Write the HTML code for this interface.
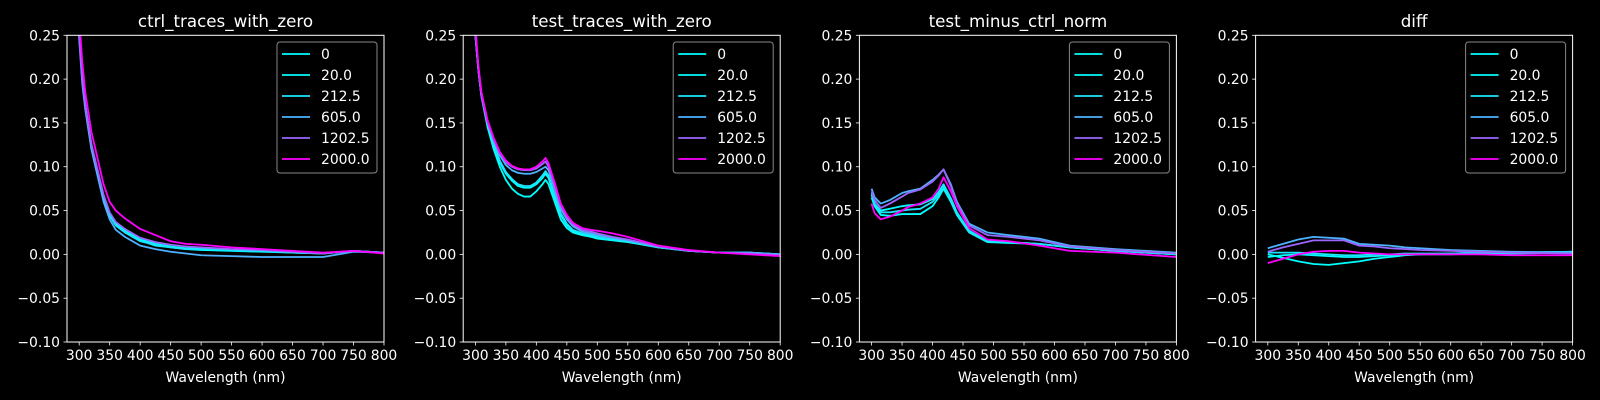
<!DOCTYPE html>
<html><head><meta charset="utf-8"><style>
html,body{margin:0;padding:0;background:#000;}
svg{display:block;font-family:"DejaVu Sans","Liberation Sans",sans-serif;}
</style></head><body>
<svg id="fig" width="1600" height="400" viewBox="0 0 1600 400" xmlns="http://www.w3.org/2000/svg">
<rect width="1600" height="400" fill="#000"/>
</svg>
<script>
const seriesLabels = ["0","20.0","212.5","605.0","1202.5","2000.0"];
const seriesColors = ["#00ffff","#03fcff","#1be4ff","#4db2ff","#9966ff","#ff00ff"];
const panelTitles = ["ctrl_traces_with_zero","test_traces_with_zero","test_minus_ctrl_norm","diff"];
const xTicks = [300,350,400,450,500,550,600,650,700,750,800];
const yTicks = [0.25,0.20,0.15,0.10,0.05,0.00,-0.05,-0.10];
const yTickLabels = ["0.25","0.20","0.15","0.10","0.05","0.00","\u22120.05","\u22120.10"];

const wl1 = [295,300,305,310,320,330,340,350,360,375,400,425,450,475,500,550,600,650,700,750,800];
const ctrl0 = [0.32,0.25,0.2,0.17,0.125,0.095,0.065,0.045,0.033,0.025,0.016,0.01,0.008,0.006,0.005,0.004,0.003,0.002,0.001,0.004,0.002];
const ctrl20 = [0.32,0.25,0.2,0.17,0.125,0.095,0.066,0.046,0.035,0.027,0.017,0.012,0.009,0.007,0.007,0.005,0.004,0.002,0.001,0.004,0.002];
const ctrl212 = [0.32,0.25,0.2,0.17,0.124,0.094,0.064,0.044,0.033,0.025,0.015,0.011,0.008,0.006,0.006,0.005,0.004,0.002,0.001,0.004,0.002];
const ctrl605 = [0.31,0.245,0.195,0.165,0.12,0.09,0.06,0.04,0.028,0.02,0.01,0.006,0.003,0.001,-0.001,-0.002,-0.003,-0.003,-0.003,0.003,0.002];
const ctrl1202 = [0.32,0.25,0.2,0.17,0.126,0.097,0.068,0.048,0.037,0.029,0.019,0.014,0.011,0.009,0.008,0.006,0.005,0.003,0.001,0.004,0.002];
const ctrl2000 = [0.34,0.27,0.22,0.185,0.14,0.11,0.08,0.06,0.05,0.041,0.029,0.022,0.015,0.012,0.011,0.008,0.006,0.004,0.002,0.004,0.001];

const wl2 = [295,300,305,310,320,330,340,350,360,370,380,390,400,410,415,420,430,440,450,460,475,490,500,525,550,600,650,700,750,800];
const test0 = [0.32,0.25,0.21,0.18,0.145,0.12,0.1,0.085,0.075,0.069,0.066,0.066,0.072,0.08,0.085,0.08,0.06,0.04,0.03,0.025,0.022,0.02,0.018,0.016,0.014,0.008,0.004,0.002,0.002,0.0];
const test20 = [0.32,0.25,0.21,0.18,0.148,0.125,0.105,0.092,0.084,0.078,0.076,0.076,0.08,0.087,0.092,0.087,0.065,0.045,0.033,0.027,0.023,0.021,0.019,0.017,0.015,0.008,0.004,0.002,0.002,0.0];
const test212 = [0.32,0.25,0.21,0.18,0.149,0.126,0.107,0.094,0.086,0.08,0.078,0.078,0.082,0.09,0.095,0.09,0.068,0.047,0.035,0.028,0.024,0.022,0.02,0.017,0.015,0.008,0.004,0.002,0.002,0.0];
const test605 = [0.32,0.25,0.21,0.18,0.15,0.13,0.113,0.102,0.096,0.093,0.092,0.092,0.094,0.098,0.1,0.096,0.075,0.052,0.04,0.032,0.026,0.024,0.022,0.019,0.016,0.009,0.004,0.002,0.002,0.0];
const test1202 = [0.32,0.25,0.21,0.18,0.15,0.131,0.115,0.105,0.1,0.097,0.096,0.096,0.098,0.103,0.106,0.1,0.078,0.055,0.042,0.034,0.028,0.026,0.024,0.02,0.017,0.009,0.004,0.002,0.001,-0.001];
const test2000 = [0.33,0.26,0.215,0.185,0.153,0.133,0.117,0.107,0.101,0.098,0.097,0.097,0.1,0.106,0.11,0.104,0.082,0.058,0.045,0.036,0.03,0.028,0.027,0.024,0.02,0.01,0.005,0.002,0.0,-0.002];

const wl3 = [300,305,315,330,350,360,380,400,410,418,430,440,460,490,525,575,625,700,800];
const norm0 = [0.065,0.055,0.045,0.044,0.046,0.046,0.046,0.055,0.065,0.075,0.06,0.045,0.025,0.014,0.013,0.012,0.008,0.004,0.0];
const norm20 = [0.068,0.058,0.05,0.052,0.055,0.056,0.057,0.063,0.071,0.08,0.064,0.048,0.027,0.015,0.014,0.012,0.008,0.004,0.0];
const norm212 = [0.07,0.058,0.048,0.048,0.05,0.051,0.052,0.06,0.068,0.078,0.062,0.047,0.026,0.015,0.014,0.012,0.008,0.004,0.0];
const norm605 = [0.075,0.065,0.058,0.062,0.07,0.072,0.075,0.085,0.091,0.097,0.08,0.06,0.035,0.025,0.022,0.018,0.01,0.006,0.002];
const norm1202 = [0.072,0.062,0.053,0.058,0.066,0.07,0.074,0.083,0.09,0.097,0.078,0.058,0.033,0.022,0.02,0.016,0.009,0.005,0.001];
const norm2000 = [0.058,0.047,0.04,0.043,0.05,0.054,0.058,0.065,0.075,0.088,0.072,0.055,0.03,0.017,0.015,0.01,0.004,0.002,-0.003];

const wl4 = [300,325,350,375,400,425,450,475,500,525,550,600,650,700,800];
const diff0 = [0.0,-0.004,-0.008,-0.011,-0.012,-0.01,-0.008,-0.005,-0.003,-0.001,0.0,0.001,0.002,0.002,0.003];
const diff20 = [-0.003,-0.001,0.0,-0.001,-0.002,-0.003,-0.003,-0.002,-0.001,0.0,0.0,0.0,0.001,0.001,0.002];
const diff212 = [0.002,0.002,0.002,0.001,0.0,-0.001,-0.001,0.0,0.0,0.001,0.001,0.001,0.002,0.002,0.003];
const diff605 = [0.007,0.012,0.017,0.02,0.019,0.018,0.012,0.011,0.01,0.008,0.007,0.005,0.004,0.003,0.002];
const diff1202 = [0.003,0.008,0.012,0.016,0.016,0.016,0.01,0.009,0.007,0.006,0.005,0.004,0.003,0.002,0.001];
const diff2000 = [-0.01,-0.005,0.0,0.003,0.004,0.004,0.002,0.001,0.0,0.0,0.0,0.0,0.0,-0.001,-0.001];

const panels = [
  {wl: wl1, data: [ctrl0,ctrl20,ctrl212,ctrl605,ctrl1202,ctrl2000]},
  {wl: wl2, data: [test0,test20,test212,test605,test1202,test2000]},
  {wl: wl3, data: [norm0,norm20,norm212,norm605,norm1202,norm2000]},
  {wl: wl4, data: [diff0,diff20,diff212,diff605,diff1202,diff2000]}
];

const NS = "http://www.w3.org/2000/svg";
const svg = document.getElementById("fig");
const AX_W = 317, AX_TOP = 35.3, AX_BOT = 342, XMIN = 280, XMAX = 800, YMIN = -0.10, YMAX = 0.25;
const lefts = [67, 463.2, 859.4, 1255.6];
function mk(tag, attrs, parent){const e=document.createElementNS(NS,tag);for(const k in attrs)e.setAttribute(k,attrs[k]);parent.appendChild(e);return e;}
const defs = mk("defs",{},svg);

panels.forEach((p, pi) => {
  const L = lefts[pi];
  const xs = v => L + (v - XMIN) / (XMAX - XMIN) * AX_W;
  const ys = v => AX_TOP + (YMAX - v) / (YMAX - YMIN) * (AX_BOT - AX_TOP);
  const g = mk("g",{},svg);
  
  
  const cp = mk("clipPath",{id:"clip"+pi},defs);
  mk("rect",{x:L,y:AX_TOP,width:AX_W,height:AX_BOT-AX_TOP},cp);
  const t = mk("text",{x:L+AX_W/2,y:27,fill:"#fff","font-size":"16.7","text-anchor":"middle"},g);
  t.textContent = panelTitles[pi];
  
  
  const lines = mk("g",{"clip-path":"url(#clip"+pi+")"},g);
  p.data.forEach((arr, si) => {
    const pts = arr.map((v,i)=>xs(p.wl[i]).toFixed(2)+","+ys(v).toFixed(2)).join(" ");
    const pl = mk("polyline",{points:pts,fill:"none",stroke:seriesColors[si],"stroke-width":"1.8","stroke-linejoin":"round"},lines);
    
    
  });
  const frame = mk("rect",{x:L,y:AX_TOP,width:AX_W,height:AX_BOT-AX_TOP,fill:"none",stroke:"#fff","stroke-width":"1"},g);
  
  
  xTicks.forEach(v => {
    const x = xs(v);
    mk("line",{x1:x,x2:x,y1:AX_BOT,y2:AX_BOT+3.5,stroke:"#fff","stroke-width":"0.8"},g);
    const tl = mk("text",{x:x,y:AX_BOT+18,fill:"#fff","font-size":"13.9","text-anchor":"middle"},g);
    tl.textContent = String(v);
    
    
  });
  yTicks.forEach((v, i) => {
    const y = ys(v);
    mk("line",{x1:L-3.5,x2:L,y1:y,y2:y,stroke:"#fff","stroke-width":"0.8"},g);
    const tl = mk("text",{x:L-7,y:y+5,fill:"#fff","font-size":"13.9","text-anchor":"end"},g);
    tl.textContent = yTickLabels[i];
    
    
  });
  const xl = mk("text",{x:L+AX_W/2,y:382,fill:"#fff","font-size":"13.9","text-anchor":"middle"},g);
  xl.textContent = "Wavelength (nm)";
  
  
  const lg = mk("g",{},g);
  
  
  const lx = L + AX_W - 107, ly = 42;
  mk("rect",{x:lx,y:ly,width:100,height:131,rx:3,fill:"#000","fill-opacity":"0.8",stroke:"#888","stroke-width":"1"},lg);
  seriesLabels.forEach((lab, si) => {
    const ey = ly + 12 + si*21;
    const e = mk("g",{},lg);
    
    
    mk("line",{x1:lx+5,x2:lx+33,y1:ey,y2:ey,stroke:seriesColors[si],"stroke-width":"1.8"},e);
    const tx = mk("text",{x:lx+44,y:ey+5,fill:"#fff","font-size":"13.9"},e);
    tx.textContent = lab;
  });
});
</script>
</body></html>
